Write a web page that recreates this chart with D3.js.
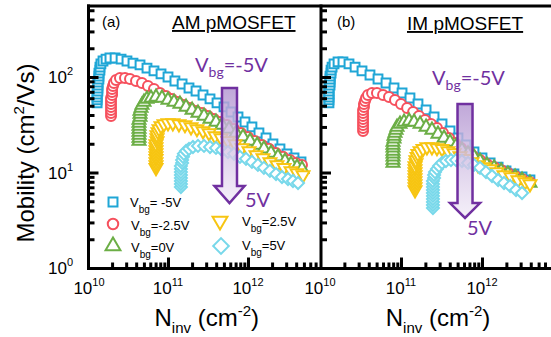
<!DOCTYPE html>
<html>
<head>
<meta charset="utf-8">
<script src="https://cdn.jsdelivr.net/npm/d3@7"></script>
<style>
  html, body { margin: 0; padding: 0; background: #fff; }
  svg { display: block; font-family: "Liberation Sans", Arial, sans-serif; }
</style>
</head>
<body>
<svg id="chart" width="551" height="337"></svg>
<script>
// Ninv in units of 1e10 cm^-2, mobility in cm^2/Vs
const amVbgM5 = [[1.30,53.5],[1.30,57.5],[1.30,61.8],[1.30,66.4],[1.33,71.4],[1.33,76.7],[1.33,82.5],[1.33,88.6],[1.37,95.3],[1.37,102],[1.37,110],[1.41,118],[1.41,127],[1.45,137],[1.54,147],[1.68,154],[1.88,158],[2.18,158],[2.59,154],[3.07,147],[3.65,140],[4.47,134],[5.46,124],[6.68,116],[8.18,108],[10.0,100],[12.2,90.8],[15.0,84.5],[18.3,76.7],[22.4,71.4],[27.4,64.8],[33.5,58.9],[41.0,53.5],[50.1,48.6],[61.3,43.0],[75.0,38.1],[91.7,33.8],[112,30.0],[137,25.9],[168,23.0],[205,19.9],[251,17.7],[307,15.7],[376,14.2],[460,12.9]];
const amVbgM25 = [[1.94,39.1],[1.94,42.0],[1.94,45.2],[1.94,48.6],[1.94,52.2],[1.94,56.1],[1.94,60.3],[2.00,64.8],[2.00,69.7],[2.00,74.9],[2.05,80.5],[2.11,86.5],[2.24,93.0],[2.51,97.6],[2.90,97.6],[3.35,95.3],[3.98,90.8],[4.73,86.5],[5.62,80.5],[6.68,74.9],[7.94,68.0],[9.44,63.3],[11.2,58.9],[13.3,54.8],[15.8,51.0],[18.8,47.4],[22.4,44.1],[26.6,42.0],[31.6,39.1],[37.6,36.4],[44.7,33.8],[54.6,31.5],[66.8,28.6],[81.8,25.9],[100,23.6],[122,21.4],[150,19.4],[183,17.7],[224,16.0],[274,14.6],[335,13.5],[398,12.6],[473,12.0]];
const amVbg0 = [[4.34,21.4],[4.34,23.0],[4.34,24.7],[4.34,26.6],[4.34,28.6],[4.34,30.7],[4.34,33.0],[4.34,35.5],[4.47,38.1],[4.47,41.0],[4.47,44.1],[4.60,47.4],[4.73,51.0],[5.01,54.8],[5.46,58.9],[6.13,60.3],[7.08,61.8],[8.41,60.3],[10.0,57.5],[11.9,54.8],[14.1,52.2],[16.8,48.6],[20.0,45.2],[23.7,42.0],[28.2,39.1],[33.5,36.4],[39.8,33.8],[47.3,31.5],[57.9,28.6],[70.8,25.9],[86.6,23.6],[106,21.4],[130,19.4],[158,17.7],[194,16.0],[237,14.6],[290,13.2],[345,12.3],[410,11.4],[473,10.9]];
const amVbgP25 = [[7.08,11.2],[7.08,12.0],[7.08,12.9],[7.08,13.9],[7.08,14.9],[7.08,16.0],[7.08,17.2],[7.08,18.5],[7.08,19.9],[7.29,21.4],[7.29,23.0],[7.29,24.7],[7.50,26.6],[7.72,28.6],[8.18,30.7],[8.91,32.2],[10.0,33.0],[11.5,33.0],[13.7,32.2],[16.3,31.5],[19.4,30.0],[23.0,28.6],[27.4,27.2],[32.6,25.9],[38.7,24.1],[46.0,23.0],[56.2,21.4],[68.8,19.9],[84.1,18.1],[103,16.8],[126,15.3],[154,14.2],[188,12.9],[230,12.0],[282,11.2],[345,10.4],[410,9.88],[487,9.42]];
const amVbgP5 = [[14.5,7.05],[14.5,7.58],[14.5,8.15],[14.5,8.76],[14.5,9.42],[14.5,10.1],[14.5,10.9],[14.5,11.7],[15.0,12.6],[15.0,13.5],[15.4,14.6],[15.8,15.7],[16.8,16.8],[18.3,17.7],[20.5,18.5],[23.7,19.0],[28.2,19.0],[33.5,18.5],[39.8,18.1],[47.3,17.2],[56.2,16.4],[66.8,15.7],[79.4,14.6],[94.4,13.9],[112,12.9],[133,12.0],[158,11.2],[188,10.4],[224,9.65],[266,8.97],[316,8.55],[365,8.15],[422,7.76]];

const imVbgM5 = [[1.29,53.5],[1.29,57.5],[1.29,61.8],[1.29,66.4],[1.29,71.4],[1.29,76.7],[1.33,82.5],[1.33,88.6],[1.33,95.3],[1.33,102],[1.37,110],[1.37,118],[1.41,127],[1.49,137],[1.67,144],[1.92,144],[2.28,137],[2.71,127],[3.30,116],[4.14,105],[5.20,95.3],[6.53,86.5],[8.20,76.7],[10.3,68.0],[12.9,60.3],[16.2,52.2],[20.4,45.2],[25.6,38.1],[32.1,32.2],[40.3,27.2],[50.5,23.0],[63.5,19.4],[79.6,16.4],[100,14.2],[126,12.6],[158,11.4],[198,10.4],[248,9.65],[312,8.97],[391,8.35]];
const imVbgM25 = [[3.40,27.2],[3.40,29.3],[3.40,31.5],[3.40,33.8],[3.40,36.4],[3.40,39.1],[3.40,42.0],[3.40,45.2],[3.49,48.6],[3.49,52.2],[3.59,56.1],[3.70,60.3],[3.91,64.8],[4.39,68.0],[5.05,68.0],[6.00,64.8],[7.11,61.8],[8.43,57.5],[10.0,52.2],[11.9,47.4],[14.1,43.0],[16.7,39.1],[19.8,35.5],[23.5,32.2],[27.8,29.3],[33.0,25.9],[39.1,23.0],[46.4,20.4],[55.1,18.1],[65.3,16.4],[77.4,14.9],[94.5,13.5],[115,12.3],[141,11.4],[172,10.6],[209,9.88],[256,9.19],[312,8.55],[391,7.95]];
const imVbg0 = [[7.97,12.6],[7.97,13.5],[7.97,14.6],[7.97,15.7],[7.97,16.8],[7.97,18.1],[7.97,19.4],[7.97,20.9],[8.20,22.5],[8.20,24.1],[8.43,25.9],[8.68,27.9],[8.93,30.0],[9.72,32.2],[10.9,33.8],[12.6,34.6],[14.5,33.8],[17.2,32.2],[20.4,30.0],[24.1,27.9],[28.6,25.3],[34.0,23.0],[40.3,20.9],[47.8,19.0],[56.6,17.2],[67.2,15.7],[79.6,14.6],[94.5,13.2],[115,12.0],[141,11.2],[172,10.4],[209,9.65],[256,8.97],[312,8.35],[391,7.76]];
const imVbgP25 = [[14.9,6.56],[14.9,7.05],[14.9,7.58],[14.9,8.15],[14.9,8.76],[14.9,9.42],[14.9,10.1],[14.9,10.9],[14.9,11.7],[15.3,12.6],[15.3,13.5],[15.8,14.6],[16.2,15.7],[17.2,16.8],[18.7,17.7],[20.9,18.5],[24.1,18.5],[27.8,18.1],[32.1,17.7],[38.0,16.8],[45.1,16.0],[53.5,14.9],[63.5,13.9],[75.2,12.9],[89.3,12.0],[106,11.4],[126,10.9],[153,10.1],[187,9.42],[228,8.97],[278,8.35],[340,7.95],[391,7.58]];
const imVbgP5 = [[24.8,4.25],[24.8,4.57],[24.8,4.91],[24.8,5.28],[24.8,5.68],[24.8,6.10],[24.8,6.56],[24.8,7.05],[24.8,7.58],[24.8,8.15],[25.6,8.76],[25.6,9.42],[26.3,10.1],[27.8,10.9],[29.5,11.7],[32.1,12.6],[35.9,13.2],[41.4,13.5],[47.8,13.5],[56.6,13.2],[67.2,12.6],[79.6,12.0],[94.5,11.2],[112,10.1],[133,9.19],[158,8.35],[187,7.76],[222,7.22],[263,6.56],[312,6.10]];

const vbgLabels = ['= -5V', '=-2.5V', '=0V', '=2.5V', '=5V'];
const panelTitles = ['AM pMOSFET', 'IM pMOSFET'];
const panelTags = ['(a)', '(b)'];
const xMajor = [1e10, 1e11, 1e12, 1e13];
const yMajor = [1, 10, 100, 1000];

const svg = d3.select('#chart');
const purple = '#7030A0';
const yTop = 6, yBot = 268;

const y = d3.scaleLog().domain([1, 100]).range([268, 77]);

const markers = [
  { type: d3.symbolSquare, size: 78, rot: 0, color: '#1FA6D6' },
  { type: d3.symbolCircle, size: 78, rot: 0, color: '#F6505D' },
  { type: d3.symbolTriangle, size: 72, rot: 0, color: '#6CAE46' },
  { type: d3.symbolTriangle, size: 72, rot: 180, color: '#F7C512' },
  { type: d3.symbolSquare, size: 72, rot: 45, color: '#78D8EA' }
];

const panels = [
  { left: 88.5, right: 321, x: d3.scaleLog().domain([1e10, 1e13]).range([88, 328]),
    series: [amVbgM5, amVbgM25, amVbg0, amVbgP25, amVbgP5],
    arrow: { n: 5.87e11, top: 76.7, head: 7.22, tip: 4.79 },
    titleX: 172, titleY: 29, tagX: 102, vTop: [195, 72], vBot: [245, 207], labels: [1e10, 1e11, 1e12] },
  { left: 321, right: 551, x: d3.scaleLog().domain([1e10, 1e13]).range([320, 563]),
    series: [imVbgM5, imVbgM25, imVbg0, imVbgP25, imVbgP5],
    arrow: { n: 6.17e11, top: 52.2, head: 4.79, tip: 3.34 },
    titleX: 407, titleY: 30, tagX: 337, vTop: [432, 85], vBot: [467, 235], labels: [1e10, 1e11, 1e12] }
];

const defs = svg.append('defs');
const grad = defs.append('linearGradient').attr('id', 'arrowFill')
  .attr('x1', 0).attr('y1', 0).attr('x2', 0).attr('y2', 1);
grad.append('stop').attr('offset', '0%').attr('stop-color', '#B598D2').attr('stop-opacity', 0.85);
grad.append('stop').attr('offset', '100%').attr('stop-color', '#F1EBF7').attr('stop-opacity', 0.75);

function minorTicks(lo, hi) {
  const out = [];
  for (let e = lo; e < hi; e++) {
    for (let k = 2; k <= 9; k++) out.push(k * Math.pow(10, e));
  }
  return out;
}

panels.forEach((p, pi) => {
  const x = p.x;
  const g = svg.append('g');
  const clipId = 'clip' + pi;
  defs.append('clipPath').attr('id', clipId)
    .append('rect').attr('x', p.left).attr('y', yTop).attr('width', p.right - p.left).attr('height', yBot - yTop);

  // data markers
  const plot = g.append('g').attr('clip-path', `url(#${clipId})`);
  p.series.forEach((data, si) => {
    const m = markers[si];
    const sym = d3.symbol().type(m.type).size(m.size);
    plot.append('g').selectAll('path')
      .data(data)
      .enter().append('path')
        .attr('d', sym)
        .attr('transform', d => `translate(${x(d[0] * 1e10)},${y(d[1])}) rotate(${m.rot})`)
        .attr('fill', '#fff')
        .attr('stroke', m.color)
        .attr('stroke-width', 2);
  });

  // arrow (semi-transparent, over the data)
  const a = p.arrow;
  const ax = x(a.n), yt = y(a.top), yh = y(a.head), yp = y(a.tip);
  const pts = [[ax - 7.5, yt], [ax + 7.5, yt], [ax + 7.5, yh], [ax + 15, yh], [ax, yp], [ax - 15, yh], [ax - 7.5, yh]];
  g.append('path')
    .attr('d', d3.line()(pts) + 'Z')
    .attr('fill', 'url(#arrowFill)')
    .attr('stroke', purple)
    .attr('stroke-width', 2.5)
    .attr('stroke-linejoin', 'miter');

  // axes ticks (inward)
  const xMinor = minorTicks(10, 13).filter(v => x(v) > p.left + 3 && x(v) < p.right - 2);
  const xMaj = xMajor.filter(v => x(v) > p.left + 3 && x(v) < p.right - 2);
  g.append('g').attr('transform', `translate(0,${yBot + 0.5})`)
    .call(d3.axisBottom(x).tickValues(xMinor).tickSize(-6).tickFormat(''));
  g.append('g').attr('transform', `translate(0,${yBot + 0.5})`)
    .call(d3.axisBottom(x).tickValues(xMaj).tickSize(-11).tickFormat(''));
  const yMinor = minorTicks(0, 3).filter(v => y(v) > yTop + 2);
  g.append('g').attr('transform', `translate(${p.left},0)`)
    .call(d3.axisLeft(y).tickValues(yMinor).tickSize(-6).tickFormat(''));
  g.append('g').attr('transform', `translate(${p.left},0)`)
    .call(d3.axisLeft(y).tickValues(yMajor.filter(v => y(v) > yTop + 2 && y(v) < yBot - 2)).tickSize(-10).tickFormat(''));
  g.selectAll('.domain').remove();
  g.selectAll('.tick line').attr('stroke', '#000').attr('stroke-width', 3);

  // x tick labels
  p.labels.forEach(v => {
    if (pi === 0 && v === 1e10) return;
    const t = g.append('text')
      .attr('x', x(v)).attr('y', 294)
      .attr('text-anchor', 'middle')
      .attr('font-size', 17);
    t.append('tspan').text('10');
    t.append('tspan').attr('dy', -8).attr('font-size', 11).text(Math.round(Math.log10(v)));
  });
  if (pi === 0) {
    const t = g.append('text').attr('x', x(1e10) + 1).attr('y', 294)
      .attr('text-anchor', 'middle').attr('font-size', 17);
    t.append('tspan').text('10');
    t.append('tspan').attr('dy', -8).attr('font-size', 11).text('10');
  }

  // titles
  g.append('text').attr('x', p.tagX).attr('y', 27).attr('font-size', 15).text(panelTags[pi]);
  g.append('text').attr('x', p.titleX).attr('y', p.titleY).attr('font-size', 19)
    .attr('text-decoration', 'underline').text(panelTitles[pi]);

  // x axis title
  const cx = (p.left + p.right) / 2 + 2;
  const xt = g.append('text').attr('x', cx).attr('y', 326)
    .attr('text-anchor', 'middle').attr('font-size', 24);
  xt.append('tspan').text('N');
  xt.append('tspan').attr('dy', 7).attr('font-size', 15).text('inv');
  xt.append('tspan').attr('dy', -7).text(' (cm');
  xt.append('tspan').attr('dy', -10).attr('font-size', 15).text('-2');
  xt.append('tspan').attr('dy', 10).text(')');

  // Vbg annotations
  const vt = g.append('text').attr('x', p.vTop[0]).attr('y', p.vTop[1])
    .attr('font-family', 'Lato, "Open Sans", sans-serif')
    .attr('font-size', 20).attr('fill', purple);
  vt.append('tspan').text('V');
  vt.append('tspan').attr('dy', 5).attr('font-size', 14).text('bg');
  vt.append('tspan').attr('dy', -5).text('=-5V');
  g.append('text').attr('x', p.vBot[0]).attr('y', p.vBot[1])
    .attr('font-family', 'Lato, "Open Sans", sans-serif')
    .attr('font-size', 20).attr('fill', purple).text('5V');
});

// frame lines
const frame = svg.append('g').attr('stroke', '#000').attr('stroke-width', 3);
frame.append('line').attr('x1', 87).attr('x2', 551).attr('y1', yTop).attr('y2', yTop);
frame.append('line').attr('x1', 87).attr('x2', 551).attr('y1', yBot + 0.5).attr('y2', yBot + 0.5);
frame.append('line').attr('x1', 88.5).attr('x2', 88.5).attr('y1', yTop - 1.5).attr('y2', yBot + 2);
frame.append('line').attr('x1', 321).attr('x2', 321).attr('y1', yTop - 1.5).attr('y2', yBot + 2);

// y tick labels
[1, 10, 100].forEach(v => {
  const t = svg.append('text').attr('x', 73).attr('y', y(v) + 6)
    .attr('text-anchor', 'end').attr('font-size', 17);
  t.append('tspan').text('10');
  t.append('tspan').attr('dy', -8).attr('font-size', 11).text(Math.round(Math.log10(v)));
});

// y axis title
const yt = svg.append('text')
  .attr('transform', 'translate(34,153) rotate(-90)')
  .attr('text-anchor', 'middle').attr('font-size', 24);
yt.append('tspan').text('Mobility (cm');
yt.append('tspan').attr('dy', -10).attr('font-size', 15).text('2');
yt.append('tspan').attr('dy', 10).text('/Vs)');

// legend
const legendPos = [
  { mx: 113, my: 202, tx: 130, ty: 207 },
  { mx: 113, my: 224, tx: 131, ty: 230 },
  { mx: 113, my: 246, tx: 131, ty: 252 },
  { mx: 220, my: 221, tx: 242, ty: 226 },
  { mx: 221, my: 246, tx: 242, ty: 250 }
];
const legendSizes = [80, 86, 96, 96, 122];
const leg = svg.append('g');
legendPos.forEach((lp, i) => {
  const m = markers[i];
  leg.append('path')
    .attr('d', d3.symbol().type(m.type).size(legendSizes[i]))
    .attr('transform', `translate(${lp.mx},${lp.my}) rotate(${m.rot})`)
    .attr('fill', '#fff').attr('stroke', m.color).attr('stroke-width', 2);
  const t = leg.append('text').attr('x', lp.tx).attr('y', lp.ty).attr('font-size', 13);
  t.append('tspan').text('V');
  t.append('tspan').attr('dy', 6).attr('font-size', 10).text('bg');
  t.append('tspan').attr('dy', -6).text(vbgLabels[i]);
});
</script>
</body>
</html>
